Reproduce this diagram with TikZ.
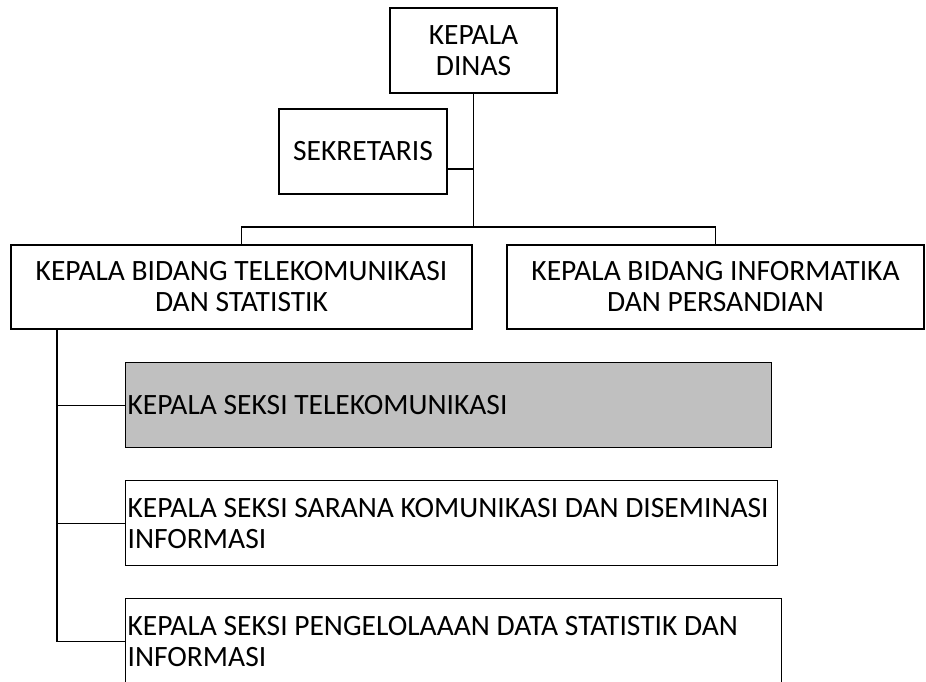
\documentclass[tikz,border=0pt]{standalone}
\usepackage{fontspec}
\setmainfont{Carlito}
\definecolor{seksigray}{HTML}{C0C0C0}

\begin{document}
\begin{tikzpicture}[
  x=1pt, y=-1pt,
  box/.style={rectangle, draw, line width=1.3pt, inner sep=1pt,
              font=\fontsize{29.5}{31}\selectfont, align=center},
  kabid/.style={box, minimum height=84pt},
  seksi/.style={box, anchor=north west, align=flush left, minimum height=85pt},
  conn/.style={line width=1.3pt}
]
  \clip (0,0) rectangle (926,681);

  \node[box, minimum width=167pt, minimum height=85pt] (kadis) at (473.5,50.5) {KEPALA\\DINAS};
  \node[box, minimum width=168pt, minimum height=85pt] (sekretaris) at (363,151.5) {SEKRETARIS};
  \node[kabid, minimum width=461pt] (kabidTel) at (241.5,287) {KEPALA BIDANG TELEKOMUNIKASI\\DAN STATISTIK};
  \node[kabid, minimum width=417pt] (kabidInf) at (715.5,287) {KEPALA BIDANG INFORMATIKA\\DAN PERSANDIAN};

  \node[seksi, fill=seksigray, minimum width=646pt, text width=642pt] (seksiTel) at (125,362) {KEPALA SEKSI TELEKOMUNIKASI};
  \node[seksi, minimum width=652pt, text width=648pt] (seksiSar) at (125,480) {KEPALA SEKSI SARANA KOMUNIKASI DAN DISEMINASI\\INFORMASI};
  \node[seksi, minimum width=656pt, text width=652pt] (seksiData) at (125,598) {KEPALA SEKSI PENGELOLAAAN DATA STATISTIK DAN\\INFORMASI};

  \coordinate (bar) at (473.5,227);
  \coordinate (trunk) at (57,329);

  \draw[conn] (kadis) -- (bar);
  \draw[conn] (sekretaris.east |- 0,169) -- (kadis.south |- 0,169);
  \draw[conn] (kabidTel.north) |- (bar) -| (kabidInf.north);
  \foreach \s in {seksiTel, seksiSar, seksiData}
    \draw[conn] (\s.west) -| (trunk);
\end{tikzpicture}
\end{document}
